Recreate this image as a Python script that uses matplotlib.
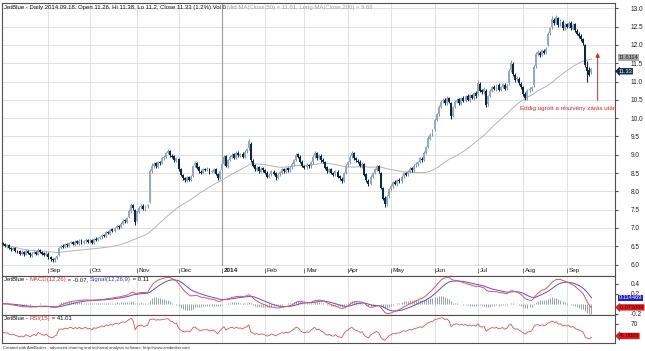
import numpy as np
import pandas as pd
import matplotlib
matplotlib.use("Agg")
import matplotlib.pyplot as plt

plt.rcParams['font.family'] = ['Liberation Sans', 'DejaVu Sans']

# ---------- data (JetBlue daily, Aug 2013 - Sep 2014) ----------
first_day, last_day = "2013-08-01", "2014-09-18"
holidays = ["2013-09-02", "2013-11-28", "2013-12-25", "2014-01-01", "2014-01-20",
            "2014-02-17", "2014-04-18", "2014-05-26", "2014-07-04", "2014-09-01"]

opens = [
    6.58, 6.56, 6.49, 6.53, 6.46, 6.41, 6.45, 6.37, 6.36, 6.29, 6.34, 6.27, 6.37, 6.31, 6.24, 6.31, 6.35, 6.27, 6.41, 6.34, 6.31, 6.26,
    6.30, 6.21, 6.16, 6.11, 6.17, 6.25, 6.46, 6.51, 6.47, 6.56, 6.51, 6.59, 6.61, 6.54, 6.63, 6.57, 6.66, 6.59, 6.64, 6.67,
    6.63, 6.66, 6.59, 6.71, 6.67, 6.73, 6.74, 6.81, 6.77, 6.89, 6.84, 6.96, 6.91, 7.01, 7.04, 7.03, 7.11, 7.21, 7.17, 7.30, 7.46, 7.63, 7.50,
    7.18, 7.44, 7.56, 7.61, 7.51, 7.59, 7.70, 8.56, 8.69, 8.76, 8.67, 8.81, 8.77, 8.91, 8.94, 9.06, 9.11, 8.97, 8.96, 8.84,
    8.88, 8.61, 8.44, 8.36, 8.29, 8.39, 8.31, 8.42, 8.71, 8.77, 8.66, 8.54, 8.51, 8.59, 8.59, 8.61, 8.53, 8.54, 8.61, 8.47, 8.36,
    8.57, 8.74, 8.96, 8.69, 8.86, 8.94, 9.01, 8.91, 9.06, 8.97, 9.03, 8.94, 9.09, 9.17, 9.30, 8.84, 8.71, 8.59, 8.66, 8.54, 8.63,
    8.57, 8.51, 8.39, 8.46, 8.54, 8.49, 8.37, 8.46, 8.51, 8.61, 8.54, 8.63, 8.57, 8.66, 8.74, 8.86, 9.01, 8.94, 8.81,
    8.69, 8.66, 8.71, 8.69, 8.79, 8.96, 9.04, 8.91, 8.97, 8.86, 8.79, 8.66, 8.54, 8.61, 8.49, 8.46, 8.54, 8.41, 8.34, 8.29, 8.51,
    8.71, 8.79, 8.96, 9.04, 8.91, 8.84, 8.81, 8.69, 8.74, 8.46, 8.29, 8.21, 8.39, 8.51, 8.59, 8.69, 8.50, 8.08, 7.82, 7.64, 7.86,
    8.06, 8.14, 8.26, 8.19, 8.31, 8.27, 8.41, 8.49, 8.46, 8.54, 8.63, 8.57, 8.71, 8.74, 8.81, 8.89, 8.86, 9.06, 9.22, 9.44, 9.56,
    9.70, 9.96, 10.12, 10.31, 10.46, 10.49, 10.41, 10.54, 10.40, 10.06, 10.31, 10.44, 10.51, 10.39, 10.56, 10.47, 10.61, 10.49, 10.63, 10.54, 10.69,
    10.65, 10.93, 10.76, 10.71, 10.75, 10.38, 10.61, 10.74, 10.86, 10.79, 10.91, 10.77, 10.86, 10.91, 10.81, 10.95, 11.32, 11.48, 11.19, 11.06, 11.08, 10.94,
    10.84, 10.66, 10.54, 10.76, 10.79, 10.90, 11.42, 11.76, 11.79, 11.73, 11.84, 11.80, 12.00, 12.32, 12.48, 12.68, 12.61, 12.73, 12.56, 12.63, 12.46,
    12.56, 12.49, 12.61, 12.44, 12.56, 12.39, 12.31, 12.24, 12.16, 12.00, 11.40, 11.31, 11.26,
]
highs = [
    6.62, 6.60, 6.56, 6.55, 6.49, 6.48, 6.47, 6.41, 6.39, 6.40, 6.36, 6.42, 6.40, 6.33, 6.35, 6.38, 6.37, 6.44, 6.43, 6.37, 6.34, 6.36,
    6.33, 6.24, 6.19, 6.21, 6.26, 6.49, 6.54, 6.55, 6.59, 6.59, 6.62, 6.64, 6.64, 6.66, 6.67, 6.69, 6.70, 6.67, 6.72, 6.70,
    6.69, 6.69, 6.73, 6.74, 6.75, 6.79, 6.83, 6.84, 6.91, 6.92, 6.98, 6.99, 7.03, 7.09, 7.08, 7.15, 7.24, 7.25, 7.31, 7.52, 7.68, 7.66, 7.52,
    7.50, 7.60, 7.65, 7.64, 7.62, 7.66, 8.62, 8.76, 8.80, 8.80, 8.83, 8.84, 8.93, 8.99, 9.08, 9.15, 9.13, 9.02, 8.99, 8.94,
    8.92, 8.65, 8.48, 8.40, 8.42, 8.43, 8.44, 8.73, 8.82, 8.80, 8.69, 8.58, 8.64, 8.63, 8.66, 8.64, 8.58, 8.64, 8.64, 8.50, 8.58,
    8.79, 9.00, 9.00, 8.89, 8.99, 9.04, 9.05, 9.09, 9.10, 9.06, 9.07, 9.12, 9.19, 9.42, 9.34, 8.89, 8.75, 8.69, 8.70, 8.66, 8.67,
    8.61, 8.55, 8.49, 8.59, 8.58, 8.52, 8.49, 8.56, 8.64, 8.65, 8.66, 8.67, 8.69, 8.79, 8.89, 9.05, 9.06, 8.98, 8.85,
    8.73, 8.76, 8.75, 8.84, 8.99, 9.10, 9.08, 9.02, 9.01, 8.90, 8.83, 8.70, 8.64, 8.65, 8.53, 8.59, 8.58, 8.45, 8.38, 8.54, 8.74,
    8.84, 8.99, 9.10, 9.08, 8.95, 8.88, 8.85, 8.79, 8.78, 8.50, 8.34, 8.44, 8.54, 8.64, 8.72, 8.73, 8.54, 8.12, 7.86, 7.89, 8.09,
    8.19, 8.29, 8.30, 8.34, 8.35, 8.44, 8.54, 8.53, 8.59, 8.66, 8.67, 8.74, 8.79, 8.84, 8.94, 8.93, 9.09, 9.25, 9.50, 9.60, 9.70,
    10.00, 10.15, 10.35, 10.50, 10.56, 10.54, 10.60, 10.58, 10.44, 10.34, 10.49, 10.55, 10.55, 10.59, 10.60, 10.64, 10.65, 10.66, 10.67, 10.72, 10.73,
    11.04, 10.98, 10.80, 10.84, 10.79, 10.64, 10.79, 10.89, 10.90, 10.94, 10.95, 10.89, 10.96, 10.95, 10.92, 11.35, 11.60, 11.52, 11.23, 11.15, 11.12, 10.98,
    10.88, 10.70, 10.79, 10.84, 10.89, 11.45, 11.80, 11.86, 11.84, 11.89, 11.88, 11.94, 12.35, 12.50, 12.78, 12.74, 12.82, 12.77, 12.70, 12.68, 12.60,
    12.60, 12.65, 12.66, 12.59, 12.60, 12.44, 12.35, 12.29, 12.20, 12.02, 11.55, 11.40, 11.38,
]
lows = [
    6.52, 6.47, 6.46, 6.43, 6.38, 6.39, 6.35, 6.31, 6.27, 6.26, 6.24, 6.25, 6.29, 6.20, 6.21, 6.28, 6.25, 6.25, 6.31, 6.26, 6.23, 6.24,
    6.16, 6.10, 6.06, 6.08, 6.14, 6.23, 6.42, 6.44, 6.44, 6.48, 6.48, 6.55, 6.52, 6.51, 6.55, 6.54, 6.57, 6.56, 6.60, 6.59,
    6.59, 6.57, 6.56, 6.65, 6.64, 6.70, 6.71, 6.75, 6.74, 6.82, 6.81, 6.88, 6.88, 6.98, 6.98, 7.00, 7.08, 7.14, 7.14, 7.26, 7.42, 7.50, 7.08,
    7.15, 7.40, 7.52, 7.49, 7.47, 7.55, 7.68, 8.50, 8.64, 8.64, 8.63, 8.72, 8.74, 8.86, 8.90, 9.02, 8.94, 8.90, 8.80, 8.80,
    8.56, 8.41, 8.31, 8.26, 8.26, 8.28, 8.28, 8.39, 8.67, 8.61, 8.51, 8.46, 8.48, 8.55, 8.56, 8.48, 8.50, 8.51, 8.44, 8.31, 8.33,
    8.54, 8.71, 8.66, 8.65, 8.82, 8.90, 8.88, 8.88, 8.94, 8.93, 8.91, 8.90, 9.05, 9.13, 8.80, 8.66, 8.56, 8.55, 8.51, 8.50, 8.54,
    8.46, 8.36, 8.35, 8.42, 8.44, 8.32, 8.33, 8.42, 8.47, 8.51, 8.50, 8.54, 8.53, 8.62, 8.70, 8.82, 8.91, 8.76, 8.66,
    8.61, 8.62, 8.64, 8.65, 8.75, 8.92, 8.86, 8.87, 8.81, 8.76, 8.61, 8.51, 8.50, 8.46, 8.41, 8.42, 8.36, 8.31, 8.23, 8.25, 8.47,
    8.67, 8.75, 8.92, 8.86, 8.81, 8.76, 8.66, 8.65, 8.41, 8.26, 8.14, 8.17, 8.35, 8.47, 8.55, 8.51, 8.05, 7.75, 7.58, 7.60, 7.82,
    8.02, 8.10, 8.16, 8.15, 8.24, 8.23, 8.37, 8.41, 8.42, 8.50, 8.54, 8.53, 8.67, 8.70, 8.77, 8.81, 8.82, 9.02, 9.18, 9.40, 9.50,
    9.66, 9.91, 10.07, 10.27, 10.42, 10.36, 10.37, 10.41, 9.98, 10.02, 10.27, 10.40, 10.36, 10.35, 10.44, 10.43, 10.46, 10.45, 10.51, 10.50, 10.56,
    10.60, 10.71, 10.66, 10.67, 10.30, 10.33, 10.57, 10.70, 10.76, 10.75, 10.74, 10.73, 10.82, 10.76, 10.77, 10.90, 11.27, 11.15, 11.00, 11.01, 10.91, 10.80,
    10.61, 10.50, 10.50, 10.72, 10.75, 10.86, 11.37, 11.71, 11.67, 11.69, 11.74, 11.76, 11.96, 12.28, 12.44, 12.55, 12.57, 12.50, 12.52, 12.41, 12.42,
    12.45, 12.45, 12.41, 12.40, 12.36, 12.26, 12.20, 12.10, 12.00, 11.40, 11.00, 11.15, 11.20,
]
closes = [
    6.55, 6.50, 6.52, 6.45, 6.42, 6.44, 6.38, 6.35, 6.30, 6.33, 6.28, 6.36, 6.32, 6.25, 6.30, 6.34, 6.28, 6.40, 6.35, 6.30, 6.27, 6.32,
    6.20, 6.15, 6.12, 6.18, 6.22, 6.45, 6.50, 6.48, 6.55, 6.52, 6.58, 6.60, 6.55, 6.62, 6.58, 6.65, 6.60, 6.63, 6.68, 6.62,
    6.65, 6.60, 6.70, 6.68, 6.72, 6.75, 6.80, 6.78, 6.88, 6.85, 6.95, 6.92, 7.00, 7.05, 7.02, 7.12, 7.20, 7.18, 7.28, 7.45, 7.62, 7.55, 7.15,
    7.45, 7.55, 7.60, 7.52, 7.58, 7.62, 8.55, 8.70, 8.75, 8.68, 8.80, 8.78, 8.90, 8.95, 9.05, 9.10, 8.98, 8.95, 8.85, 8.90,
    8.60, 8.45, 8.35, 8.30, 8.38, 8.32, 8.40, 8.70, 8.78, 8.65, 8.55, 8.50, 8.60, 8.58, 8.62, 8.52, 8.55, 8.60, 8.48, 8.35, 8.55,
    8.75, 8.95, 8.70, 8.85, 8.95, 9.00, 8.92, 9.05, 8.98, 9.02, 8.95, 9.08, 9.15, 9.38, 8.85, 8.70, 8.60, 8.65, 8.55, 8.62, 8.58,
    8.50, 8.40, 8.45, 8.55, 8.48, 8.38, 8.45, 8.52, 8.60, 8.55, 8.62, 8.58, 8.65, 8.75, 8.85, 9.00, 8.95, 8.80, 8.70,
    8.65, 8.72, 8.68, 8.80, 8.95, 9.05, 8.90, 8.98, 8.85, 8.80, 8.65, 8.55, 8.60, 8.50, 8.45, 8.55, 8.40, 8.35, 8.28, 8.50, 8.70,
    8.80, 8.95, 9.05, 8.90, 8.85, 8.80, 8.70, 8.75, 8.45, 8.30, 8.20, 8.40, 8.50, 8.60, 8.68, 8.55, 8.10, 7.80, 7.65, 7.85, 8.05,
    8.15, 8.25, 8.20, 8.30, 8.28, 8.40, 8.50, 8.45, 8.55, 8.62, 8.58, 8.70, 8.75, 8.80, 8.90, 8.85, 9.05, 9.20, 9.45, 9.55, 9.65,
    9.95, 10.10, 10.30, 10.45, 10.50, 10.40, 10.55, 10.45, 10.05, 10.30, 10.45, 10.50, 10.40, 10.55, 10.48, 10.60, 10.50, 10.62, 10.55, 10.68, 10.60,
    10.95, 10.75, 10.70, 10.80, 10.35, 10.60, 10.75, 10.85, 10.80, 10.90, 10.78, 10.85, 10.92, 10.80, 10.88, 11.30, 11.50, 11.20, 11.05, 11.10, 10.95, 10.85,
    10.65, 10.55, 10.75, 10.80, 10.85, 11.40, 11.75, 11.80, 11.72, 11.85, 11.78, 11.90, 12.30, 12.45, 12.70, 12.60, 12.75, 12.55, 12.65, 12.45, 12.55,
    12.50, 12.60, 12.45, 12.55, 12.40, 12.30, 12.25, 12.15, 12.05, 11.45, 11.30, 11.19, 11.33,
]

# values printed in the labels on the right edge
ma50_last, close_last = 11.6114, 11.33
macd_last, signal_last = -0.073089, 0.114469
rsi_last = 41.0086

title_main = "JetBlue - Daily 2014.09.18. Open 11.26, Hi 11.38, Lo 11.2, Close 11.33 (1.2%) Vol 0 "
title_ma = "Mid MA(Close,50) = 11.61, Long MA(Close,200) = 9.66"
note = "Eddig ugrott a részvény zárás után"
footer = "Created with AmiBroker - advanced charting and technical analysis software. http://www.amibroker.com"

# ---------- indicators ----------
dates = pd.bdate_range(first_day, last_day)
dates = dates[~dates.isin(pd.to_datetime(holidays))]
n = len(closes)
assert len(dates) == n
idx = np.arange(n)

close = pd.Series(closes)
ma50 = close.rolling(50, min_periods=1).mean()
macd = close.ewm(span=12, adjust=False).mean() - close.ewm(span=26, adjust=False).mean()
signal = macd.ewm(span=9, adjust=False).mean()
hist = macd - signal

# Wilder RSI(15), seeded with a small average move
diff = close.diff().fillna(0).values
ag, al = 0.04, 0.04
rsi = []
for d in diff:
    ag = (ag * 14 + max(d, 0)) / 15
    al = (al * 14 + max(-d, 0)) / 15
    rsi.append(100 - 100 / (1 + ag / al))

# month starts
month_pos = [i for i in range(1, n) if dates[i].month != dates[i - 1].month]
month_lab = [("2014" if dates[i].month == 1 else dates[i].strftime("%b")) for i in month_pos]

# ---------- figure layout (pixel boxes) ----------
W, H = 645, 351
fig = plt.figure(figsize=(W / 100, H / 100), dpi=100)

def box(left, top, right, bottom):
    return [left / W, 1 - bottom / H, (right - left) / W, (bottom - top) / H]

ax = fig.add_axes(box(2, 3, 615, 276))
ax_m = fig.add_axes(box(2, 276, 615, 315), sharex=ax)
ax_r = fig.add_axes(box(2, 315, 615, 343), sharex=ax)

grid_c = "#dcdcdc"
edge_c = "#505050"
fs = 4.35     # title / label text
fs_tick = 4.7
fs_tag = 4.1

for a in (ax, ax_m, ax_r):
    for s in a.spines.values():
        s.set_color(edge_c)
        s.set_linewidth(0.8)
    a.yaxis.tick_right()
    a.tick_params(axis="y", labelsize=fs_tick, length=2, pad=9, color=edge_c, labelcolor="#202020")
    a.tick_params(axis="x", bottom=False, labelbottom=False)
    a.set_facecolor("white")

ax.set_xlim(-0.5, 296.4)

# ---------- main price pane ----------
ax.set_ylim(5.686, 13.145)
ax.set_yticks(np.arange(6.0, 13.01, 0.5))
ax.yaxis.set_major_formatter(matplotlib.ticker.FormatStrFormatter("%.1f"))
for y in np.arange(6.0, 13.01, 0.5):
    ax.axhline(y, color=grid_c, lw=0.6, zorder=0)
for p, lab in zip(month_pos, month_lab):
    c = "#9a9a9a" if lab == "2014" else grid_c
    ax.vlines(p, 5.96, 13.2, color=c, lw=0.8 if lab == "2014" else 0.6, zorder=0)
    ax.vlines(p, 5.77, 5.9, color="#606060", lw=0.6)
    ax.text(p + 0.8, 5.83, lab, fontsize=fs + 0.2, va="center", ha="left",
            fontweight="bold" if lab == "2014" else "normal", color="#202020")

o, h, l, c = map(np.array, (opens, highs, lows, closes))
up = c >= o
up_c, dn_c = "#93a9bf", "#0c2745"
col = np.where(up, up_c, dn_c)
ax.vlines(idx, l, h, colors=np.where(up, "#7f96ad", dn_c), lw=0.75, zorder=2)
body = np.maximum(np.abs(c - o), 0.025)
ax.bar(idx, body, bottom=np.minimum(o, c), width=0.95, color=col, lw=0, zorder=3)

ax.plot(idx, ma50, color="#b4b4b4", lw=0.7, zorder=1)

# note with arrow
ax.annotate("", xy=(n + 2, 11.86), xytext=(n + 2, 10.41),
            arrowprops=dict(arrowstyle="-|>", color="#e02222", lw=0.7, mutation_scale=6))
ax.text(n - 12.5, 10.25, note, color="#e02222", fontsize=fs + 0.15, ha="center", va="center")

# right edge value tags
def tag(a, val, txt, fc, tc, style="square"):
    a.annotate(txt, xy=(1, val), xycoords=("axes fraction", "data"), xytext=(2.5, 0),
               textcoords="offset points", fontsize=fs_tag, color=tc, va="center", ha="left",
               annotation_clip=False, zorder=10,
               bbox=dict(boxstyle=style + ",pad=0.12", fc=fc, ec="none"))

tag(ax, ma50_last + 0.04, "11.6114", "#a8a8a8", "#202020")
tag(ax, close_last - 0.05, "11.33", "#0e2a47", "white", "larrow")

# title line: black part then grey part
t1 = ax.text(0.003, 0.993, title_main, transform=ax.transAxes, fontsize=fs,
             va="top", ha="left", color="#101010")
ax.annotate(title_ma, xy=(1, 0), xycoords=t1, va="bottom", ha="left",
            fontsize=fs, color="#a0a0a0")

# ---------- MACD pane ----------
ax_m.set_ylim(-0.224, 0.55)
ax_m.set_yticks([-0.2, 0.2, 0.4])
ax_m.set_yticklabels(["-0.2", "0.2", "0.4"])
for p in month_pos:
    ax_m.axvline(p, color=grid_c, lw=0.6, zorder=0)
ax_m.vlines(idx, 0, hist, color="#7e95aa", lw=0.6, zorder=1)
ax_m.plot(idx, signal, color="#5252d6", lw=0.7, zorder=2)
ax_m.plot(idx, macd, color="#e05656", lw=0.7, zorder=3)

parts = [("JetBlue - ", "#101010"), ("MACD(12,26)", "#e03030"), (" = -0.07, ", "#101010"),
         ("Signal(12,26,9)", "#3a3ad0"), (" = 0.11", "#101010")]
prev = ax_m.text(0.003, 0.97, parts[0][0], transform=ax_m.transAxes, fontsize=fs,
                 va="top", ha="left", color=parts[0][1])
for s, cc in parts[1:]:
    prev = ax_m.annotate(s, xy=(1, 0), xycoords=prev, va="bottom", ha="left", fontsize=fs, color=cc)

tag(ax_m, signal_last, "0.114469", "#2222cc", "white")
tag(ax_m, macd_last, "-0.073089", "#e02020", "#5a0000", "larrow")

# ---------- RSI pane ----------
ax_r.set_ylim(24, 91.7)
ax_r.set_yticks([70])
ax_r.set_yticklabels(["70"])
for p in month_pos:
    ax_r.axvline(p, color=grid_c, lw=0.6, zorder=0)
ax_r.plot(idx, rsi, color="#e05050", lw=0.6)

parts = [("JetBlue - ", "#101010"), ("RSI(15)", "#e03030"), (" = 41.01", "#101010")]
prev = ax_r.text(0.003, 0.96, parts[0][0], transform=ax_r.transAxes, fontsize=fs,
                 va="top", ha="left", color=parts[0][1])
for s, cc in parts[1:]:
    prev = ax_r.annotate(s, xy=(1, 0), xycoords=prev, va="bottom", ha="left", fontsize=fs, color=cc)

tag(ax_r, rsi_last, "41.0086", "#e01818", "#5a0000", "larrow")

fig.text(3 / W, 1 - 347.5 / H, footer, fontsize=3.0, va="center", ha="left", color="#303030")

fig.savefig("out.png", dpi=100, facecolor="white")
